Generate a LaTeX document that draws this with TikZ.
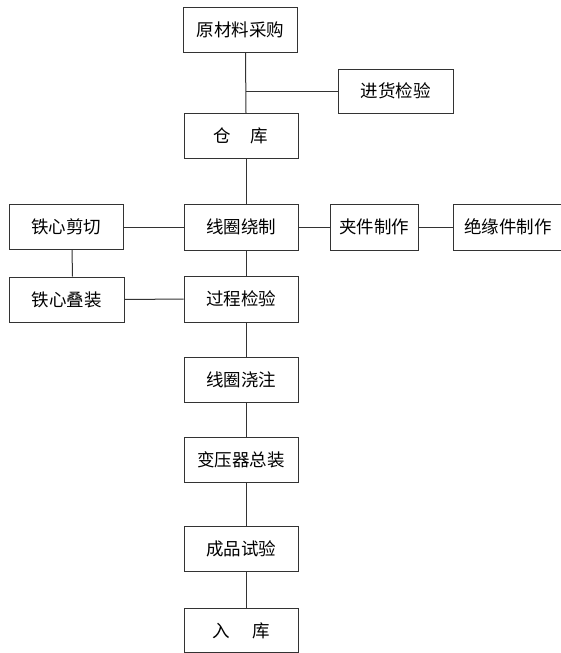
\documentclass[tikz,border=0pt]{standalone}
\usepackage{fontspec}
\newfontfamily\cjk{Noto Sans CJK SC}
\begin{document}
\begin{tikzpicture}[x=1pt,y=-1pt,
  box/.style={draw=black!80, line width=1pt, fill=white, inner sep=0pt,
    minimum width=114pt, minimum height=45pt,
    font=\cjk\fontsize{17.5}{19}\selectfont, text=black},
  conn/.style={draw=black!80, line width=1pt}]
\useasboundingbox[fill=white] (0,0) rectangle (561,653);
\node[box] (raw)  at (240.5,30)  {原材料采购};
\node[box, minimum width=115pt, minimum height=44pt] (jin) at (395.5,91) {进货检验};
\node[box] (cang) at (241,136) {仓\hspace{1.1em}库};
\node[box, minimum height=46pt] (rao) at (241,227) {线圈绕制};
\node[box] (jq) at (66,227) {铁心剪切};
\node[box, minimum width=115pt] (jz) at (66.5,299.5) {铁心叠装};
\node[box, minimum height=46pt] (gc) at (241,299) {过程检验};
\node[box, minimum width=88pt, minimum height=46pt] (jj) at (374,227) {夹件制作};
\node[box, minimum width=110pt, minimum height=46pt] (jy) at (508,227) {绝缘件制作};
\node[box] (jzhu) at (241,379.5) {线圈浇注};
\node[box] (zz) at (241,460) {变压器总装};
\node[box] (cp) at (241,549) {成品试验};
\node[box, minimum height=44pt] (rk) at (241,630.5) {入\hspace{1.3em}库};
\coordinate (junc) at ([xshift=5pt]raw.south |- jin.west);
\draw[conn] ([xshift=5pt]raw.south) -- ([xshift=5pt]cang.north);
\draw[conn] (jin.west) -- (junc);
\draw[conn] ([xshift=5pt]cang.south) -- ([xshift=5pt]rao.north);
\draw[conn] ([xshift=5pt]rao.south) -- ([xshift=5pt]gc.north);
\draw[conn] ([xshift=5pt]gc.south) -- ([xshift=5pt]jzhu.north);
\draw[conn] ([xshift=5pt]jzhu.south) -- ([xshift=5pt]zz.north);
\draw[conn] ([xshift=5pt]zz.south) -- ([xshift=5pt]cp.north);
\draw[conn] ([xshift=5pt]cp.south) -- ([xshift=5pt]rk.north);
\draw[conn] (jq) -- (rao);
\draw[conn] (rao) -- (jj);
\draw[conn] (jj) -- (jy);
\draw[conn] (jz) -- (gc);
\draw[conn] ([xshift=6pt]jq.south) -- ([xshift=6pt]jz.north);
\end{tikzpicture}
\end{document}
